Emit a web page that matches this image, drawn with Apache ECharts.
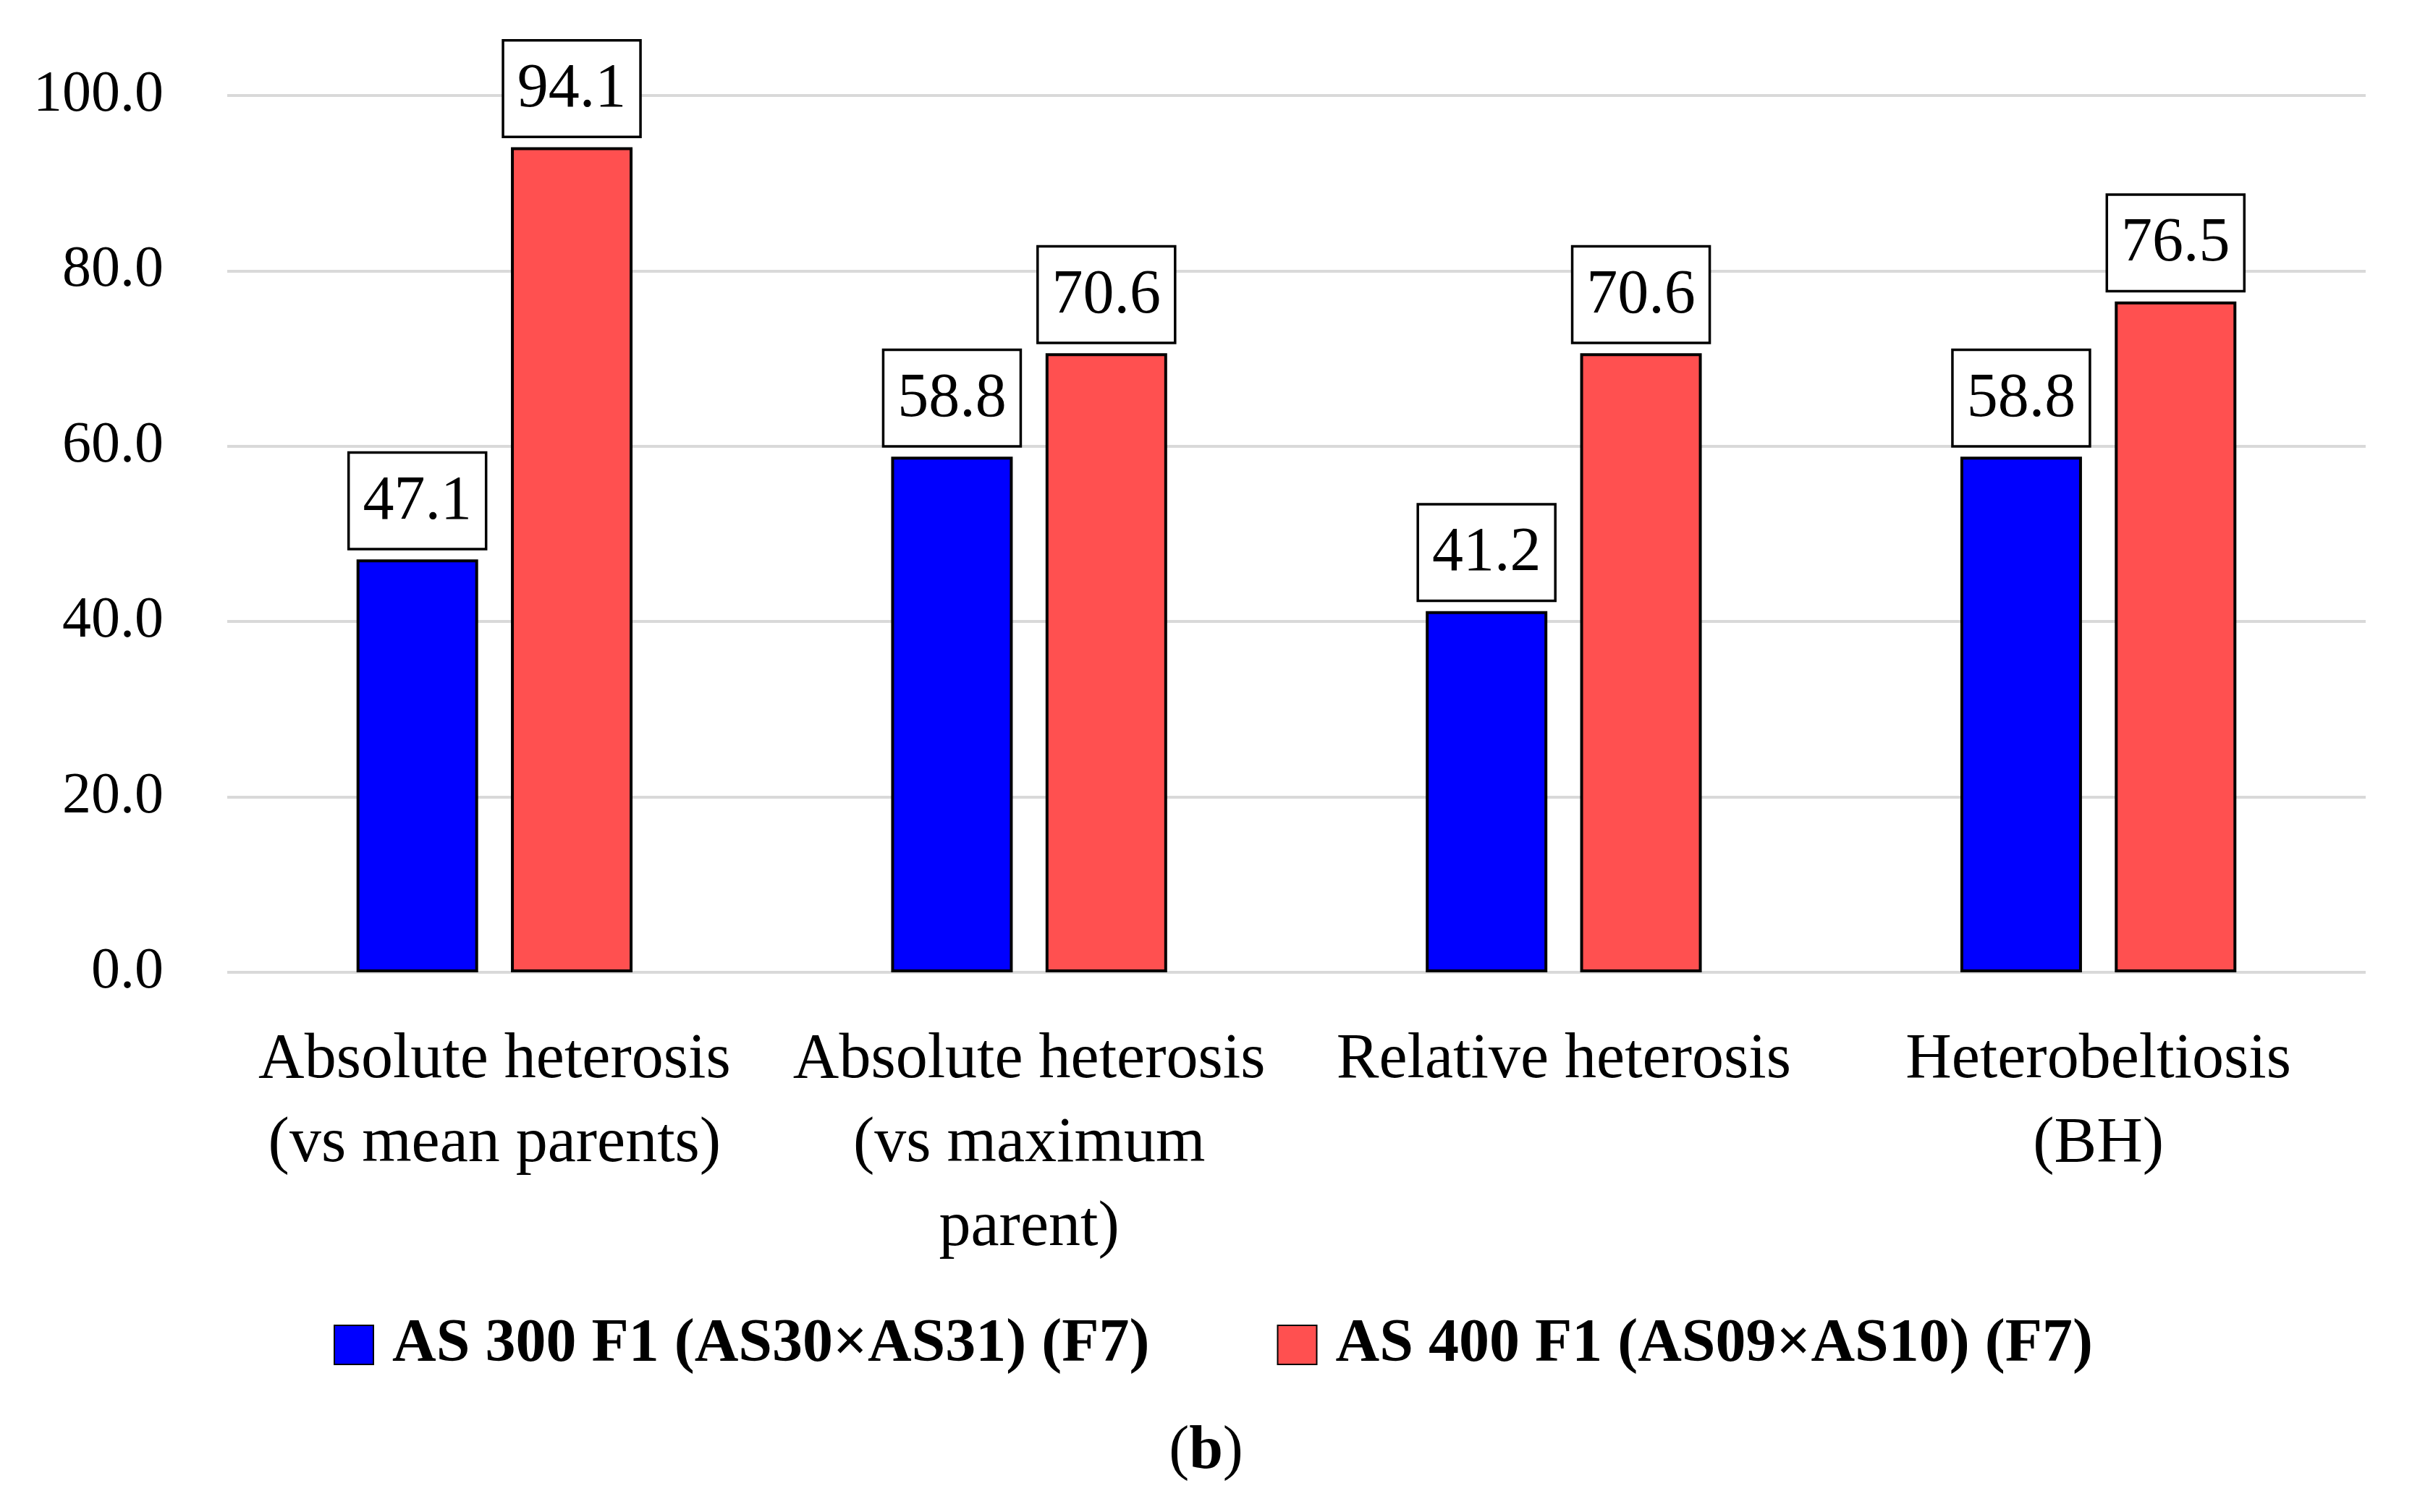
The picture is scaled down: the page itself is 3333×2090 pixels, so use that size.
<!DOCTYPE html>
<html>
<head>
<meta charset="utf-8">
<script src="https://cdn.jsdelivr.net/npm/echarts@6/dist/echarts.min.js"></script>
<style>html,body{margin:0;padding:0;background:#fff;}#c{width:3333px;height:2090px;}</style>
</head>
<body>
<div id="c"></div>
<script>
const categories = [
  "Absolute heterosis\n(vs mean parents)",
  "Absolute heterosis\n(vs maximum\nparent)",
  "Relative heterosis",
  "Heterobeltiosis\n(BH)"
];
const seriesNames = ["AS 300 F1 (AS30×AS31) (F7)", "AS 400 F1 (AS09×AS10) (F7)"];
const as300 = [47.1, 58.8, 41.2, 58.8];
const as400 = [94.1, 70.6, 70.6, 76.5];
const yTicks = { min: 0, max: 100, interval: 20 };

const FONT = '"Liberation Serif", "DejaVu Serif", serif';
const chart = echarts.init(document.getElementById('c'), null, { renderer: 'canvas' });

const labelStyle = {
  show: true,
  position: 'top',
  distance: 16,
  formatter: p => p.value.toFixed(1),
  fontFamily: FONT,
  fontSize: 86,
  color: '#000',
  backgroundColor: '#fff',
  borderColor: '#000',
  borderWidth: 3.5,
  padding: [22, 18, 18, 18],
  lineHeight: 90
};

chart.setOption({
  backgroundColor: '#fff',
  animation: false,
  textStyle: { fontFamily: FONT },
  title: {
    text: '({b|b})',
    left: 'center',
    top: 1960,
    textStyle: {
      fontFamily: FONT, fontSize: 84, fontWeight: 'normal', color: '#000',
      rich: { b: { fontFamily: FONT, fontSize: 84, fontWeight: 'bold', color: '#000' } }
    }
  },
  legend: {
    data: seriesNames,
    left: 456,
    top: 1812,
    itemWidth: 54,
    itemHeight: 54,
    itemGap: 176,
    icon: 'rect',
    formatter: name => ' ' + name,
    textStyle: { fontFamily: FONT, fontSize: 84, fontWeight: 'bold', color: '#000' }
  },
  grid: { left: 314, right: 64, top: 132, bottom: 746, containLabel: false },
  xAxis: {
    type: 'category',
    data: categories,
    axisLine: { show: false },
    axisTick: { show: false },
    axisLabel: {
      interval: 0,
      margin: 64,
      fontFamily: FONT,
      fontSize: 88,
      lineHeight: 116,
      color: '#000'
    }
  },
  yAxis: {
    type: 'value',
    min: yTicks.min,
    max: yTicks.max,
    interval: yTicks.interval,
    axisLine: { show: false },
    axisTick: { show: false },
    splitLine: { lineStyle: { color: '#d9d9d9', width: 4 } },
    axisLabel: {
      formatter: v => v.toFixed(1),
      fontFamily: FONT,
      fontSize: 80,
      color: '#000',
      margin: 88
    }
  },
  series: [
    {
      name: seriesNames[0],
      type: 'bar',
      data: as300,
      barWidth: 168,
      barGap: '27%',
      itemStyle: { color: '#0000FF', borderColor: '#000', borderWidth: 4 },
      label: labelStyle
    },
    {
      name: seriesNames[1],
      type: 'bar',
      data: as400,
      barWidth: 168,
      barGap: '27%',
      itemStyle: { color: '#FF5050', borderColor: '#000', borderWidth: 4 },
      label: labelStyle
    }
  ]
});
</script>
</body>
</html>
